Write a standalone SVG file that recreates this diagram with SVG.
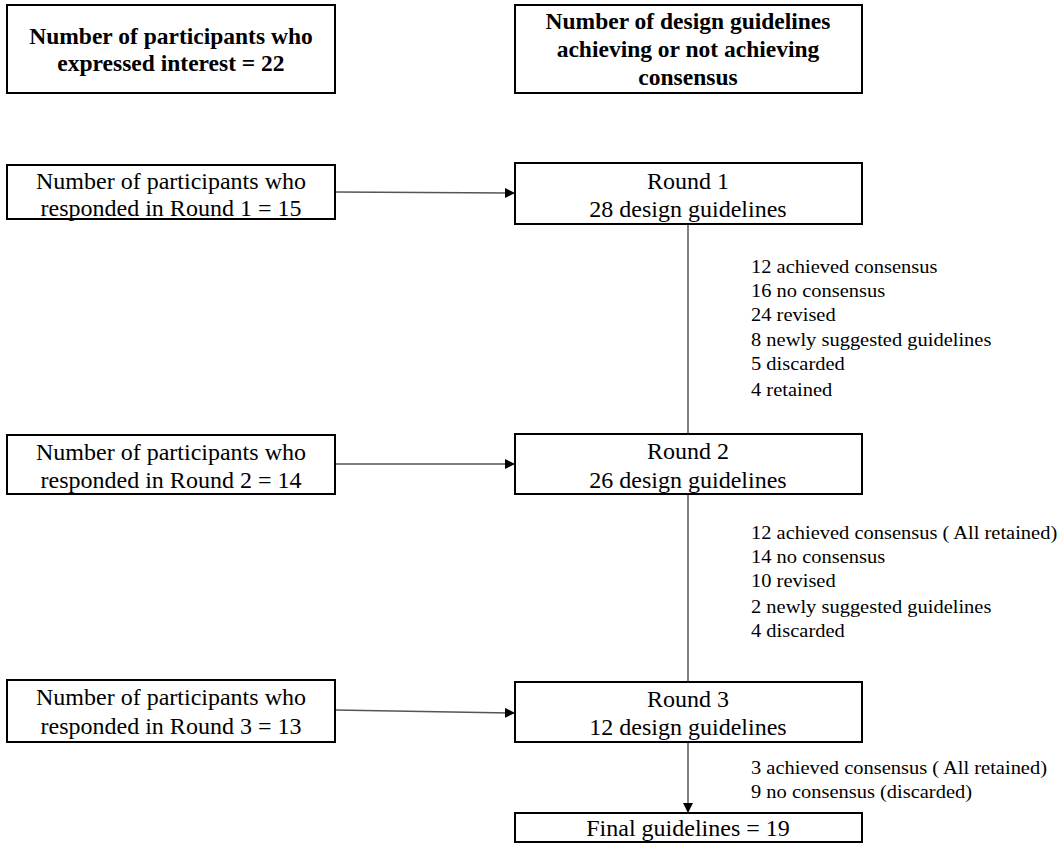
<svg xmlns="http://www.w3.org/2000/svg" width="1059" height="844" viewBox="0 0 1059 844">
<style>
.box{fill:#fff;stroke:#000;stroke-width:2}
.t{font-family:"Liberation Serif","Times New Roman",serif;fill:#000}
.h{font-size:23.5px;font-weight:bold;text-anchor:middle}
.n{font-size:24px;text-anchor:middle}
.s{font-size:18px}
.c{stroke:#555;stroke-width:1.5;fill:none}
</style>
<defs>
<marker id="ah" markerWidth="10" markerHeight="10" refX="9" refY="5" orient="auto" markerUnits="userSpaceOnUse">
<path d="M0,0 L10,5 L0,10 Z" fill="#000"/>
</marker>
</defs>
<g id="connectors">
<line class="c" x1="335" y1="192" x2="514" y2="193" marker-end="url(#ah)"/>
<line class="c" x1="335" y1="464" x2="514" y2="464" marker-end="url(#ah)"/>
<line class="c" x1="335" y1="710" x2="514" y2="713" marker-end="url(#ah)"/>
<line class="c" x1="688" y1="224" x2="688" y2="434"/>
<line class="c" x1="688" y1="494" x2="688" y2="682"/>
<line class="c" x1="688" y1="742" x2="688" y2="812" stroke="#000" marker-end="url(#ah)"/>
</g>
<g id="header-participants">
<rect class="box" x="7" y="5" width="328" height="88"/>
<text class="t h" x="171" y="44">Number of participants who</text>
<text class="t h" x="171" y="71">expressed interest = 22</text>
</g>
<g id="header-guidelines">
<rect class="box" x="515" y="5" width="347" height="88"/>
<text class="t h" x="688" y="29">Number of design guidelines</text>
<text class="t h" x="688" y="57">achieving or not achieving</text>
<text class="t h" x="688" y="85">consensus</text>
</g>
<g id="p-round1">
<rect class="box" x="7" y="165" width="328" height="54"/>
<text class="t n" x="171" y="189">Number of participants who</text>
<text class="t n" x="171" y="216">responded in Round 1 = 15</text>
</g>
<g id="round1">
<rect class="box" x="515" y="163" width="347" height="61"/>
<text class="t n" x="688" y="189">Round 1</text>
<text class="t n" x="688" y="217">28 design guidelines</text>
</g>
<g id="round1-notes" transform="translate(751 0) scale(1.137 1)">
<text class="t s" x="0" y="273">12 achieved consensus</text>
<text class="t s" x="0" y="297">16 no consensus</text>
<text class="t s" x="0" y="321">24 revised</text>
<text class="t s" x="0" y="346">8 newly suggested guidelines</text>
<text class="t s" x="0" y="370">5 discarded</text>
<text class="t s" x="0" y="396">4 retained</text>
</g>
<g id="p-round2">
<rect class="box" x="7" y="435" width="328" height="59"/>
<text class="t n" x="171" y="460">Number of participants who</text>
<text class="t n" x="171" y="488">responded in Round 2 = 14</text>
</g>
<g id="round2">
<rect class="box" x="515" y="434" width="347" height="60"/>
<text class="t n" x="688" y="459">Round 2</text>
<text class="t n" x="688" y="488">26 design guidelines</text>
</g>
<g id="round2-notes" transform="translate(751 0) scale(1.137 1)">
<text class="t s" x="0" y="539">12 achieved consensus ( All retained)</text>
<text class="t s" x="0" y="563">14 no consensus</text>
<text class="t s" x="0" y="587">10 revised</text>
<text class="t s" x="0" y="613">2 newly suggested guidelines</text>
<text class="t s" x="0" y="637">4 discarded</text>
</g>
<g id="p-round3">
<rect class="box" x="7" y="680" width="328" height="62"/>
<text class="t n" x="171" y="705">Number of participants who</text>
<text class="t n" x="171" y="734">responded in Round 3 = 13</text>
</g>
<g id="round3">
<rect class="box" x="515" y="682" width="347" height="60"/>
<text class="t n" x="688" y="707">Round 3</text>
<text class="t n" x="688" y="735">12 design guidelines</text>
</g>
<g id="round3-notes" transform="translate(751 0) scale(1.137 1)">
<text class="t s" x="0" y="774">3 achieved consensus ( All retained)</text>
<text class="t s" x="0" y="798">9 no consensus (discarded)</text>
</g>
<g id="final">
<rect class="box" x="515" y="813" width="347" height="29"/>
<text class="t n" x="688" y="836">Final guidelines = 19</text>
</g>
</svg>
